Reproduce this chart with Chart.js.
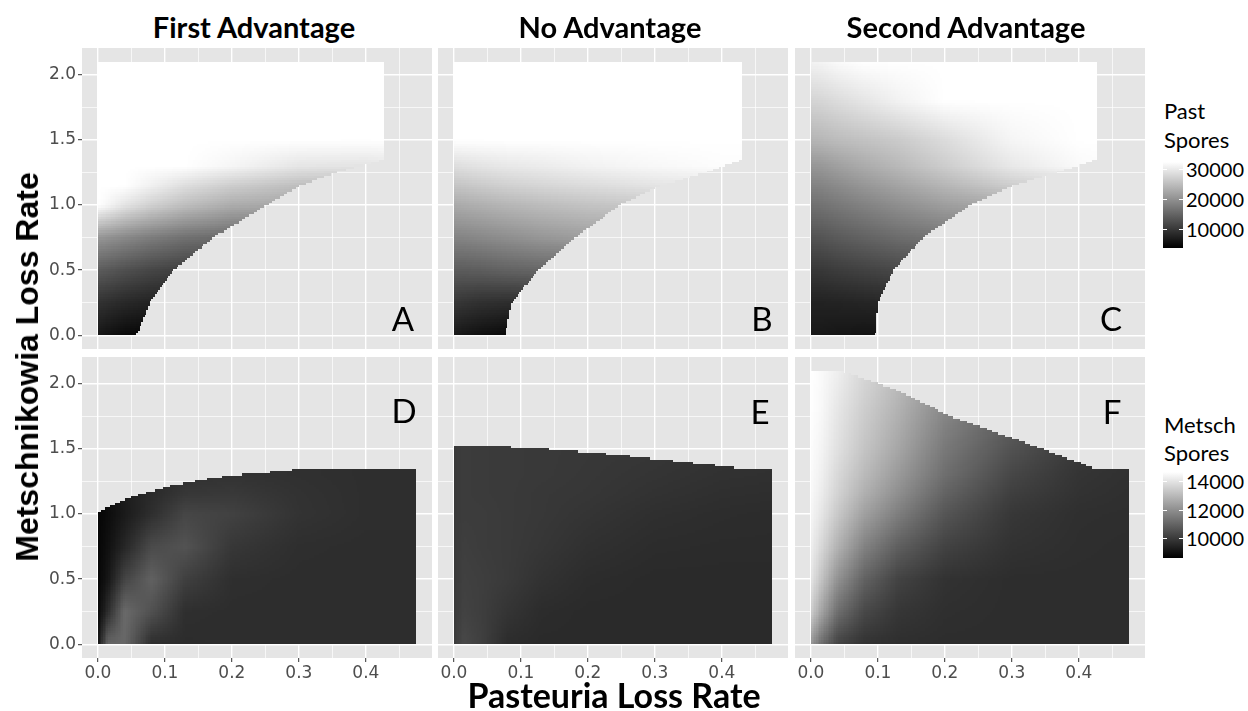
<!DOCTYPE html>
<html>
<head>
<meta charset="utf-8">
<script src="https://cdn.jsdelivr.net/npm/chart.js@4.4.1/dist/chart.umd.min.js"></script>
<style>
  body { margin: 0; background: #fff; }
  #page { position: relative; width: 1248px; height: 711px; overflow: hidden; font-family: Lato, "Open Sans", sans-serif; color: #000; }
  #page canvas { position: absolute; z-index: 1; }
  .txt { position: absolute; white-space: nowrap; line-height: 1; z-index: 2; }
  .mid { transform: translate(-50%, -50%); }
  .lft { transform: translate(0, -50%); }
  .title { font-weight: bold; font-size: 29px; }
  .axis { font-weight: bold; font-size: 34px; }
  .ytitle { font-family: "Liberation Sans", Arial, sans-serif; font-weight: bold; font-size: 32px; transform: translate(-50%, -50%) rotate(-90deg); }
  .letter { font-size: 33px; }
  .key { font-size: 22px; }
  .num { font-size: 20px; }
  .bar { position: absolute; width: 20px; background: linear-gradient(to top, #000, #fff); z-index: 2; }
  .notch { position: absolute; width: 4px; height: 1px; background: #fff; z-index: 3; }
</style>
</head>
<body>
<div id="page">
  <div class="txt mid title" style="left:254px;top:26px">First Advantage</div>
  <div class="txt mid title" style="left:610px;top:26px">No Advantage</div>
  <div class="txt mid title" style="left:966px;top:26px">Second Advantage</div>
  <div class="txt ytitle" style="left:27px;top:367px">Metschnikowia Loss Rate</div>
  <div class="txt mid axis" style="left:614px;top:695px">Pasteuria Loss Rate</div>
  <div class="txt mid letter" style="left:403px;top:318px">A</div>
  <div class="txt mid letter" style="left:762px;top:318px">B</div>
  <div class="txt mid letter" style="left:1111px;top:318px">C</div>
  <div class="txt mid letter" style="left:404px;top:410px">D</div>
  <div class="txt mid letter" style="left:760px;top:411px">E</div>
  <div class="txt mid letter" style="left:1112px;top:411px">F</div>
  <div class="txt lft key" style="left:1164px;top:111px">Past</div>
  <div class="txt lft key" style="left:1164px;top:140px">Spores</div>
  <div class="txt lft key" style="left:1164px;top:425px">Metsch</div>
  <div class="txt lft key" style="left:1164px;top:453px">Spores</div>
</div>
<script>
// shading nodes: Pasteuria loss rate (x) and Metschnikowia loss rate (y)
const lossX = [0, 0.015, 0.04, 0.08, 0.13, 0.2, 0.3, 0.4, 0.475];
const lossY = [0, 0.25, 0.5, 0.75, 1.0, 1.15, 1.3, 1.5, 1.8, 2.1];

const pastFirst = [
  [6200, 5500, 4600, 4100, 4100, 4100, 4100, 4100, 4100],
  [9100, 8700, 8000, 7300, 7100, 7100, 7100, 7100, 7100],
  [13900, 13400, 12500, 11400, 10500, 10300, 10300, 10300, 10300],
  [20500, 19900, 18900, 17500, 16200, 15300, 14800, 14800, 14800],
  [32400, 31300, 29300, 27100, 25000, 23000, 22200, 22200, 22200],
  [32400, 32400, 32400, 30700, 28600, 26700, 25000, 24400, 24400],
  [32400, 32400, 32400, 32400, 32400, 31300, 29500, 29300, 30100],
  [32400, 32400, 32400, 32400, 32400, 32400, 32400, 32400, 32400],
  [32400, 32400, 32400, 32400, 32400, 32400, 32400, 32400, 32400],
  [32400, 32400, 32400, 32400, 32400, 32400, 32400, 32400, 32400],
];
const pastNone = [
  [6400, 5900, 5300, 4600, 4600, 4600, 4600, 4600, 4600],
  [9700, 9350, 8900, 8600, 8600, 8600, 8600, 8600, 8600],
  [13900, 13900, 14100, 14600, 15000, 15000, 15000, 15000, 15000],
  [18400, 18500, 18900, 19600, 20500, 21400, 21400, 21400, 21400],
  [22700, 23000, 23400, 24100, 24800, 25600, 26200, 26200, 26200],
  [25700, 25900, 26400, 27100, 27700, 28400, 29300, 29800, 29800],
  [28600, 28900, 29300, 29800, 30200, 30900, 31600, 32100, 32100],
  [32400, 32400, 32400, 32400, 32400, 32400, 32400, 32400, 32400],
  [32400, 32400, 32400, 32400, 32400, 32400, 32400, 32400, 32400],
  [32400, 32400, 32400, 32400, 32400, 32400, 32400, 32400, 32400],
];
const pastSecond = [
  [6200, 6200, 5950, 5700, 5700, 5700, 5700, 5700, 5700],
  [7300, 7300, 7400, 7650, 8000, 8000, 8000, 8000, 8000],
  [9700, 9800, 10300, 10900, 11600, 12000, 12000, 12000, 12000],
  [12800, 13000, 13700, 14600, 15700, 16800, 16800, 16800, 16800],
  [16200, 16400, 17100, 18200, 19600, 21400, 22700, 22700, 22700],
  [18200, 18400, 19200, 20500, 22000, 24100, 26700, 28400, 29000],
  [20500, 20700, 21600, 22900, 24400, 26700, 29800, 31800, 32400],
  [23950, 24200, 24800, 25500, 26400, 28400, 31300, 32400, 32400],
  [27500, 27700, 28400, 29500, 30900, 32400, 32400, 32400, 32400],
  [30900, 31100, 31800, 32400, 32400, 32400, 32400, 32400, 32400],
];

const metschFirst = [
  [9070, 11000, 11050, 9660, 9640, 9660, 9660, 9660, 9660],
  [8790, 9660, 11100, 10500, 9700, 9660, 9660, 9660, 9660],
  [8720, 9120, 10200, 10900, 10100, 9700, 9660, 9660, 9660],
  [8720, 8980, 9500, 10350, 10550, 9900, 9690, 9660, 9660],
  [8720, 8880, 9210, 9690, 10250, 10150, 9800, 9690, 9690],
  [8740, 8930, 9260, 9590, 9900, 9950, 9780, 9690, 9690],
  [8790, 8980, 9310, 9550, 9740, 9780, 9740, 9690, 9690],
  [8790, 8980, 9310, 9550, 9740, 9780, 9740, 9690, 9690],
  [8790, 8980, 9310, 9550, 9740, 9780, 9740, 9690, 9690],
  [8790, 8980, 9310, 9550, 9740, 9780, 9740, 9690, 9690],
];
const metschNone = [
  [10020, 10300, 10110, 9640, 9590, 9590, 9590, 9590, 9590],
  [9970, 10160, 10070, 9830, 9640, 9590, 9590, 9590, 9590],
  [9970, 10110, 10070, 9970, 9780, 9640, 9590, 9590, 9590],
  [9970, 10070, 10020, 9970, 9880, 9740, 9640, 9620, 9620],
  [9970, 10020, 10020, 9970, 9920, 9830, 9710, 9660, 9640],
  [9970, 10020, 9990, 9970, 9920, 9880, 9780, 9710, 9690],
  [9970, 10020, 9990, 9970, 9950, 9900, 9830, 9760, 9740],
  [9970, 10020, 9990, 9970, 9950, 9920, 9880, 9810, 9780],
  [9970, 10020, 9990, 9970, 9950, 9920, 9880, 9810, 9780],
  [9970, 10020, 9990, 9970, 9950, 9920, 9880, 9810, 9780],
];
const metschSecond = [
  [12150, 11200, 10160, 9780, 9690, 9660, 9660, 9660, 9660],
  [13450, 12500, 11200, 10300, 9880, 9710, 9660, 9660, 9660],
  [13990, 13240, 12050, 10920, 10180, 9780, 9660, 9660, 9660],
  [14230, 13710, 12810, 11670, 10850, 10160, 9780, 9690, 9660],
  [14390, 14040, 13330, 12380, 11580, 10610, 9900, 9710, 9690],
  [14470, 14180, 13570, 12740, 11960, 10920, 10070, 9780, 9710],
  [14510, 14280, 13710, 13000, 12240, 11200, 10260, 9830, 9740],
  [14560, 14370, 13900, 13240, 12530, 11440, 10540, 9920, 9780],
  [14610, 14470, 14040, 13450, 12810, 11790, 10870, 10070, 9830],
  [14630, 14510, 14230, 13680, 13090, 12150, 11200, 10210, 9900],
];

// right edge of the filled area in A-C (Pasteuria rate) against Metschnikowia rate
const edgeY = [0, 0.25, 0.5, 0.75, 1.0, 1.15, 1.25, 1.35, 2.1];
const edgeFirst = [0.058, 0.078, 0.113, 0.172, 0.252, 0.302, 0.356, 0.428, 0.428];
const edgeNone = [0.077, 0.086, 0.126, 0.181, 0.248, 0.308, 0.377, 0.43, 0.43];
const edgeSecond = [0.096, 0.1, 0.123, 0.168, 0.237, 0.302, 0.367, 0.427, 0.427];

// top edge of the filled area in D-F
const topFirstX = [0, 0.015, 0.035, 0.06, 0.085, 0.11, 0.135, 0.16, 0.185, 0.205, 0.25, 0.3, 0.475];
const topFirstY = [1.01, 1.055, 1.1, 1.145, 1.18, 1.22, 1.24, 1.266, 1.287, 1.3, 1.317, 1.345, 1.35];
const topNoneX = [0, 0.086, 0.086, 0.1435, 0.1435, 0.185, 0.185, 0.2265, 0.2265, 0.2615, 0.2615,
  0.2925, 0.2925, 0.3285, 0.3285, 0.3575, 0.3575, 0.389, 0.389, 0.4175, 0.4175, 0.475];
const topNoneY = [1.529, 1.529, 1.511, 1.511, 1.496, 1.496, 1.478, 1.478, 1.46, 1.46, 1.439,
  1.439, 1.421, 1.421, 1.403, 1.403, 1.385, 1.385, 1.367, 1.367, 1.352, 1.352];
const topSecondX = [0, 0.043, 0.085, 0.135, 0.21, 0.3, 0.4225, 0.475];
const topSecondY = [2.105, 2.105, 2.03, 1.935, 1.745, 1.585, 1.352, 1.352];

const xTicks = [0, 0.05, 0.1, 0.15, 0.2, 0.25, 0.3, 0.35, 0.4, 0.45];
const yTicks = [0, 0.25, 0.5, 0.75, 1, 1.25, 1.5, 1.75, 2];
const pastRange = [3450, 32400];
const metschRange = [8600, 14630];
const pastKeys = [30000, 20000, 10000];
const metschKeys = [14000, 12000, 10000];

// size of one raster cell of the model grid
const cellW = 0.0025;
const cellH = 0.0175;
const nCols = 190;
const nRows = 120;

const panels = [
  { id: "A", values: pastFirst, range: pastRange, right: edgeFirst, left: 82, top: 48, showX: false, showY: true },
  { id: "B", values: pastNone, range: pastRange, right: edgeNone, left: 438, top: 48, showX: false, showY: false },
  { id: "C", values: pastSecond, range: pastRange, right: edgeSecond, left: 795, top: 48, showX: false, showY: false },
  { id: "D", values: metschFirst, range: metschRange, topX: topFirstX, topY: topFirstY, left: 82, top: 357, showX: true, showY: true },
  { id: "E", values: metschNone, range: metschRange, topX: topNoneX, topY: topNoneY, left: 438, top: 357, showX: true, showY: false },
  { id: "F", values: metschSecond, range: metschRange, topX: topSecondX, topY: topSecondY, left: 795, top: 357, showX: true, showY: false },
];

// piecewise line through read points (repeated x gives a step)
function lineAt(px, py, t) {
  for (let k = 0; k < px.length - 1; k++) {
    if (t <= px[k + 1] && px[k + 1] > px[k]) {
      const f = Math.max(0, (t - px[k]) / (px[k + 1] - px[k]));
      return py[k] + f * (py[k + 1] - py[k]);
    }
  }
  return py[py.length - 1];
}

function bracket(nodes, t) {
  let i = 0;
  while (i < nodes.length - 2 && t > nodes[i + 1]) i++;
  const f = Math.min(1, Math.max(0, (t - nodes[i]) / (nodes[i + 1] - nodes[i])));
  return [i, f];
}

// smooth shading between the read values, like a raster with interpolate on
function shadeAt(values, x, y) {
  const [i, fx] = bracket(lossX, x);
  const [j, fy] = bracket(lossY, y);
  const lo = values[j][i] * (1 - fx) + values[j][i + 1] * fx;
  const hi = values[j + 1][i] * (1 - fx) + values[j + 1][i + 1] * fx;
  return lo * (1 - fy) + hi * fy;
}

function shadePlugin(panel) {
  return {
    id: "shade" + panel.id,
    beforeDraw(chart) {
      const a = chart.chartArea;
      chart.ctx.save();
      chart.ctx.fillStyle = "#e5e5e5";
      chart.ctx.fillRect(a.left, a.top, a.right - a.left, a.bottom - a.top);
      chart.ctx.restore();
    },
    beforeDatasetsDraw(chart) {
      const ctx = chart.ctx;
      const sx = chart.scales.x;
      const sy = chart.scales.y;
      const [lo, hi] = panel.range;
      ctx.save();
      for (let i = 0; i < nCols; i++) {
        const x0 = i * cellW;
        const xc = x0 + cellW / 2;
        const l = Math.round(sx.getPixelForValue(x0));
        const r = Math.round(sx.getPixelForValue(x0 + cellW));
        const top = panel.topX ? lineAt(panel.topX, panel.topY, xc) : Infinity;
        for (let j = 0; j < nRows; j++) {
          const y0 = j * cellH;
          const yc = y0 + cellH / 2;
          if (yc > top) break;
          if (panel.right && xc > lineAt(edgeY, panel.right, yc)) continue;
          const v = shadeAt(panel.values, xc, yc);
          const g = Math.max(0, Math.min(255, Math.round((255 * (v - lo)) / (hi - lo))));
          ctx.fillStyle = `rgb(${g},${g},${g})`;
          const t = Math.round(sy.getPixelForValue(y0 + cellH));
          const b = Math.round(sy.getPixelForValue(y0));
          ctx.fillRect(l, t, r - l, b - t);
        }
      }
      ctx.restore();
    },
  };
}

const isMajorY = (v) => Math.abs(v * 2 - Math.round(v * 2)) < 1e-6;
const isMajorX = (v) => Math.abs(v * 10 - Math.round(v * 10)) < 1e-6;

// tick text like ggplot's axis text
Chart.defaults.font.family = "DejaVu Sans";
Chart.defaults.font.size = 17;
Chart.defaults.color = "#4d4d4d";

function axis(show, ticks, min, max, majorTest, horizontal) {
  return {
    type: "linear",
    min: min,
    max: max,
    afterBuildTicks: (s) => {
      s.ticks = ticks.map((v) => ({ value: v }));
    },
    afterFit: (s) => {
      if (horizontal) {
        s.height = show ? 30 : 4;
        s.paddingLeft = 0;
        s.paddingRight = 0;
      } else {
        s.width = show ? 50 : 4;
        s.paddingTop = 0;
        s.paddingBottom = 0;
      }
    },
    border: { display: false },
    grid: {
      color: "#ffffff",
      lineWidth: (c) => (majorTest(c.tick.value) ? 1.4 : 0.7),
      drawTicks: show,
      tickLength: 4,
      tickWidth: 1,
      tickColor: (c) => (majorTest(c.tick.value) ? "#333333" : "rgba(0,0,0,0)"),
    },
    ticks: {
      display: show,
      autoSkip: false,
      maxRotation: 0,
      padding: horizontal ? 1 : 2,
      color: "#4d4d4d",
      font: { family: "DejaVu Sans", size: 17 },
      callback: (v) => (majorTest(v) ? v.toFixed(1) : ""),
    },
  };
}

const page = document.getElementById("page");

panels.forEach((panel) => {
  const L = panel.showY ? 50 : 4;
  const B = panel.showX ? 30 : 4;
  const canvas = document.createElement("canvas");
  canvas.width = 350 + L + 4;
  canvas.height = 301 + B + 4;
  canvas.style.left = panel.left - L + "px";
  canvas.style.top = panel.top - 4 + "px";
  page.appendChild(canvas);

  new Chart(canvas, {
    type: "scatter",
    data: { datasets: [{ data: [], pointRadius: 0 }] },
    options: {
      responsive: false,
      animation: false,
      events: [],
      layout: { padding: { top: 4, right: 4, left: 0, bottom: 0 } },
      plugins: { legend: { display: false }, tooltip: { enabled: false } },
      scales: {
        x: axis(panel.showX, xTicks, -0.02375, 0.49875, isMajorX, true),
        y: axis(panel.showY, yTicks, -0.105, 2.205, isMajorY, false),
      },
    },
    plugins: [shadePlugin(panel)],
  });
});

// colour keys
function drawKey(keys, range, barTop, barHeight) {
  const [lo, hi] = range;
  const bar = document.createElement("div");
  bar.className = "bar";
  bar.style.left = "1163px";
  bar.style.top = barTop + "px";
  bar.style.height = barHeight + "px";
  page.appendChild(bar);
  keys.forEach((k) => {
    const y = barTop + ((hi - k) / (hi - lo)) * barHeight;
    [1163, 1179].forEach((x) => {
      const n = document.createElement("div");
      n.className = "notch";
      n.style.left = x + "px";
      n.style.top = Math.round(y) + "px";
      page.appendChild(n);
    });
    const t = document.createElement("div");
    t.className = "txt lft num";
    t.style.left = "1186px";
    t.style.top = y + "px";
    t.textContent = String(k);
    page.appendChild(t);
  });
}
drawKey(pastKeys, pastRange, 162, 86);
drawKey(metschKeys, metschRange, 472, 86);
</script>
</body>
</html>
